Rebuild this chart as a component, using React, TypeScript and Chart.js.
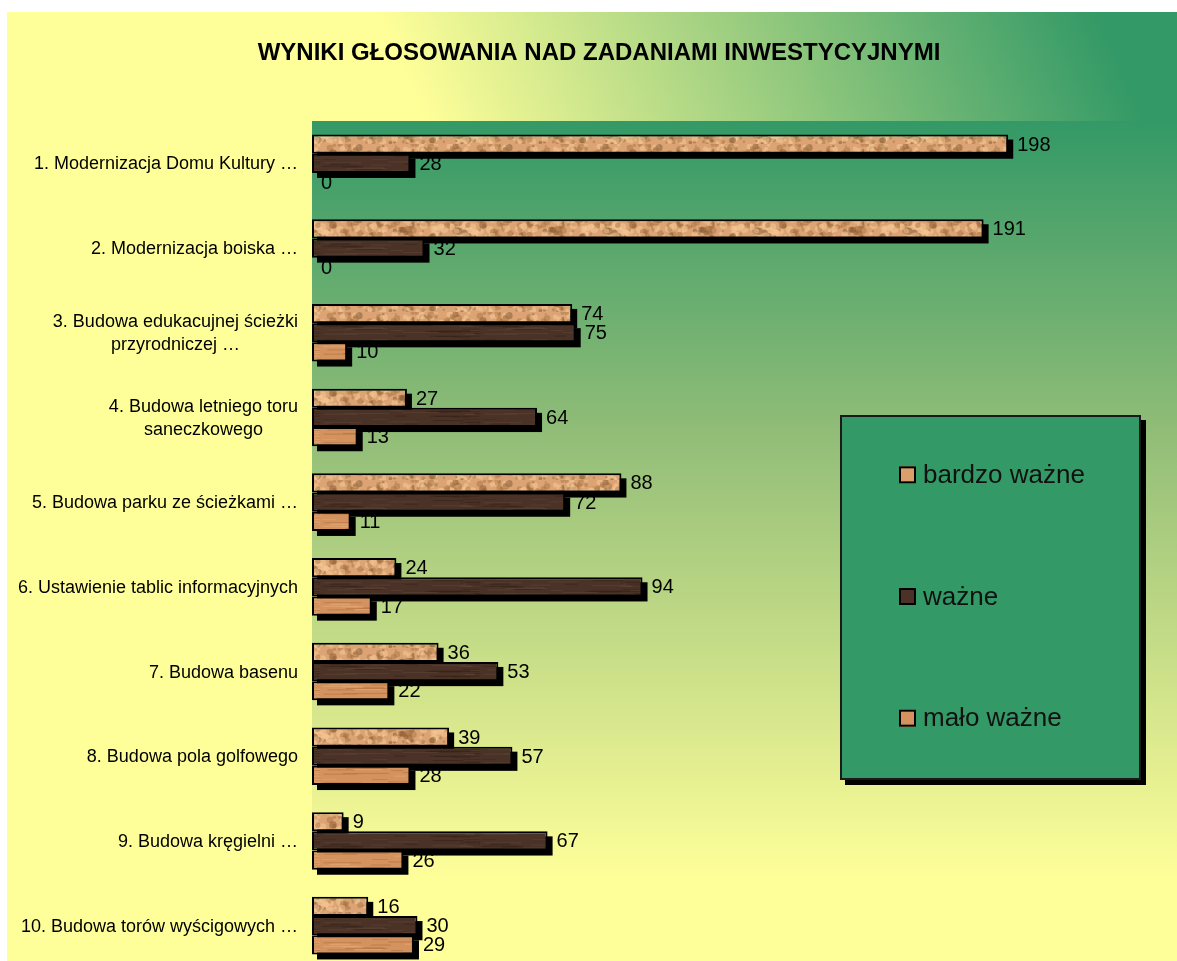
import React, { useEffect, useRef } from 'react';
import { Chart, registerables } from 'chart.js';

Chart.register(...registerables);

const categories: (string | string[])[] = [
  '1. Modernizacja Domu Kultury …',
  '2. Modernizacja boiska …',
  ['3. Budowa edukacujnej ścieżki', 'przyrodniczej …'],
  ['4. Budowa letniego toru', 'saneczkowego'],
  '5. Budowa parku ze ścieżkami …',
  '6. Ustawienie tablic informacyjnych',
  '7. Budowa basenu',
  '8. Budowa pola golfowego',
  '9. Budowa kręgielni …',
  '10. Budowa torów wyścigowych …',
];
const seriesNames = ['bardzo ważne', 'ważne', 'mało ważne'];
const bardzoWazne = [198, 191, 74, 27, 88, 24, 36, 39, 9, 16];
const wazne = [28, 32, 75, 64, 72, 94, 53, 57, 67, 30];
const maloWazne = [0, 0, 10, 13, 11, 17, 22, 28, 26, 29];
const titleText = 'WYNIKI GŁOSOWANIA NAD ZADANIAMI INWESTYCYJNYMI';

const FONT = '"Liberation Sans", Arial, Helvetica, sans-serif';
const swatchColors = ['#D9A06C', '#4A3226', '#D4935E'];

function hash(n: number) {
  const s = Math.sin(n * 127.1 + 311.7) * 43758.5453;
  return s - Math.floor(s);
}

function makeCork(ctx: CanvasRenderingContext2D) {
  const c = document.createElement('canvas');
  c.width = 150; c.height = 24;
  const g = c.getContext('2d')!;
  g.fillStyle = '#DCA474';
  g.fillRect(0, 0, 150, 24);
  for (let i = 0; i < 170; i++) {
    const x = hash(i) * 150, y = hash(i + 1000) * 24, r = 1 + hash(i + 2000) * 3;
    const t = hash(i + 3000);
    g.fillStyle = t < 0.4 ? 'rgba(165,110,65,0.45)' : t < 0.85 ? 'rgba(245,200,150,0.55)' : 'rgba(120,78,40,0.45)';
    g.beginPath(); g.arc(x, y, r, 0, Math.PI * 2); g.fill();
  }
  return ctx.createPattern(c, 'repeat')!;
}

function makeStreak(ctx: CanvasRenderingContext2D, base: string, dark: string, light: string) {
  const c = document.createElement('canvas');
  c.width = 160; c.height = 20;
  const g = c.getContext('2d')!;
  g.fillStyle = base;
  g.fillRect(0, 0, 160, 20);
  for (let i = 0; i < 40; i++) {
    const x = hash(i + 50) * 160, y = hash(i + 500) * 20, w = 10 + hash(i + 900) * 40;
    g.fillStyle = hash(i + 77) < 0.5 ? dark : light;
    g.fillRect(x, y, w, 1);
  }
  return ctx.createPattern(c, 'repeat')!;
}

const decorPlugin = {
  id: 'decor',
  beforeDraw(chart: any) {
    const { ctx, width, height, chartArea: a } = chart;
    ctx.save();
    const g = ctx.createLinearGradient(470, 230, 1080, -30);
    g.addColorStop(0, '#FFFF99');
    g.addColorStop(1, '#339966');
    ctx.fillStyle = g;
    ctx.fillRect(7, 12, width - 7, height - 12);
    const pg = ctx.createLinearGradient(0, a.top, 0, a.top + 760);
    pg.addColorStop(0, '#339966');
    pg.addColorStop(0.4, '#8FBC77');
    pg.addColorStop(1, '#FFFF99');
    ctx.fillStyle = pg;
    ctx.fillRect(a.left, a.top, a.right - a.left, a.bottom - a.top);
    ctx.fillStyle = '#000';
    ctx.font = `bold 24px ${FONT}`;
    ctx.textAlign = 'center';
    ctx.textBaseline = 'middle';
    ctx.fillText(titleText, 599, 53);
    ctx.restore();
  },
  beforeDatasetsDraw(chart: any) {
    const { ctx } = chart;
    ctx.save();
    ctx.font = `20px ${FONT}`;
    ctx.fillStyle = '#000';
    ctx.textAlign = 'left';
    ctx.textBaseline = 'middle';
    chart.data.datasets.forEach((ds: any, d: number) => {
      chart.getDatasetMeta(d).data.forEach((el: any, j: number) => {
        const p = el.getProps(['x', 'y', 'base', 'height'], true);
        ctx.fillText(String(ds.data[j]), Math.max(p.x, p.base) + 9, p.y + 1);
      });
    });
    ctx.fillStyle = '#000';
    chart.data.datasets.forEach((ds: any, d: number) => {
      chart.getDatasetMeta(d).data.forEach((el: any) => {
        const p = el.getProps(['x', 'y', 'base', 'height'], true);
        const w = p.x - p.base;
        if (w > 0.5) ctx.fillRect(p.base + 5, p.y - p.height / 2 + 5, w, p.height);
      });
    });
    ctx.restore();
  },
  afterDraw(chart: any) {
    const { ctx } = chart;
    const yScale = chart.scales.y;
    ctx.save();
    // category labels
    ctx.font = `18px ${FONT}`;
    ctx.fillStyle = '#000';
    ctx.textAlign = 'center';
    ctx.textBaseline = 'middle';
    const rightX = yScale.right - 14;
    (chart.data.labels as any[]).forEach((lab, i) => {
      const lines = Array.isArray(lab) ? lab : [lab];
      const y = yScale.getPixelForTick(i);
      const maxW = Math.max(...lines.map((l: string) => ctx.measureText(l).width));
      const cx = rightX - maxW / 2;
      const lh = 23;
      lines.forEach((l: string, k: number) => {
        ctx.fillText(l, cx, y + 1 + (k - (lines.length - 1) / 2) * lh);
      });
    });
    // legend
    const bx = 840, by = 415, bw = 301, bh = 365;
    ctx.fillStyle = '#000';
    ctx.fillRect(bx + 5, by + 5, bw, bh);
    ctx.fillStyle = '#339966';
    ctx.fillRect(bx, by, bw, bh);
    ctx.strokeStyle = '#1a1a1a';
    ctx.lineWidth = 2;
    ctx.strokeRect(bx + 1, by + 1, bw - 2, bh - 2);
    ctx.font = `26px ${FONT}`;
    ctx.textAlign = 'left';
    ctx.textBaseline = 'middle';
    chart.data.datasets.forEach((ds: any, d: number) => {
      const cy = by + bh * (d + 0.5) / 3 - 1;
      ctx.fillStyle = swatchColors[d];
      ctx.fillRect(899, cy - 8.5, 17, 17);
      ctx.strokeStyle = '#000';
      ctx.lineWidth = 2;
      ctx.strokeRect(900, cy - 7.5, 15, 15);
      ctx.fillStyle = '#111';
      ctx.fillText(ds.label, 923, cy + 1);
    });
    ctx.restore();
  },
};

export default function App() {
  const ref = useRef<HTMLCanvasElement | null>(null);
  useEffect(() => {
    const canvas = ref.current!;
    const ctx = canvas.getContext('2d')!;
    const fills = [
      makeCork(ctx),
      makeStreak(ctx, '#4A3226', 'rgba(95,70,55,0.6)', 'rgba(55,35,25,0.6)'),
      makeStreak(ctx, '#D4935E', 'rgba(175,110,60,0.6)', 'rgba(232,172,120,0.6)'),
    ];
    const seriesData = [bardzoWazne, wazne, maloWazne];
    const chart = new Chart(canvas, {
      type: 'bar',
      data: {
        labels: categories as any,
        datasets: seriesNames.map((name, i) => ({
          label: name,
          data: seriesData[i],
          backgroundColor: fills[i] as any,
          borderColor: '#000',
          borderWidth: 2,
          borderSkipped: false,
          categoryPercentage: 0.68,
          barPercentage: 1,
        })),
      },
      options: {
        indexAxis: 'y',
        responsive: false,
        animation: false,
        devicePixelRatio: 1,
        layout: { padding: { left: 0, right: 0, top: 121, bottom: 7 } },
        plugins: {
          legend: { display: false },
          title: { display: false },
          tooltip: { enabled: false },
        },
        scales: {
          x: { display: false, min: 0, max: 246 },
          y: {
            grid: { display: false },
            border: { display: false },
            ticks: { display: false },
            afterFit: (s: any) => { s.width = 312; },
          },
        },
      },
      plugins: [decorPlugin],
    });
    return () => chart.destroy();
  }, []);
  return (
    <div style={{ position: 'absolute', left: 0, top: 0, width: 1177, height: 961, overflow: 'hidden', background: '#fff' }}>
      <canvas ref={ref} width={1177} height={975} style={{ width: 1177, height: 975, display: 'block' }} />
    </div>
  );
}
